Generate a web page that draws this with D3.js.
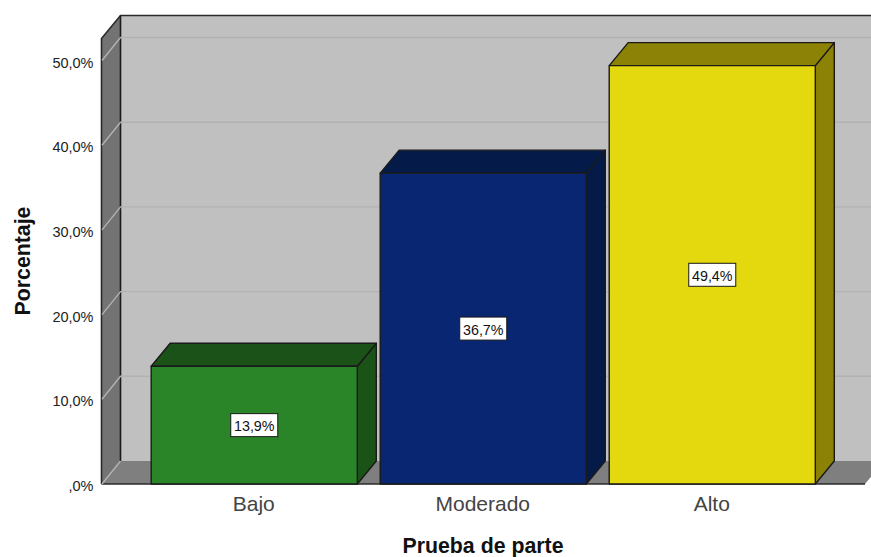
<!DOCTYPE html>
<html>
<head>
<meta charset="utf-8">
<script src="https://cdn.jsdelivr.net/npm/d3@7/dist/d3.min.js"></script>
<style>
html, body { margin: 0; padding: 0; background: #fff; overflow: hidden; }
svg { display: block; font-family: "Liberation Sans", Arial, sans-serif; }
</style>
</head>
<body>
<div id="chart"></div>
<script>
var categories = ["Bajo", "Moderado", "Alto"];
var values = [13.9, 36.7, 49.4];
var valueLabels = ["13,9%", "36,7%", "49,4%"];
var tickValues = [0, 10, 20, 30, 40, 50];
var tickLabels = [",0%", "10,0%", "20,0%", "30,0%", "40,0%", "50,0%"];
var frontColors = ["#2a8529", "#082672", "#e4d80e"];
var topColors = ["#1a5217", "#041a49", "#8c8206"];

var width = 871, height = 557;
var depthX = 19, depthY = 23;
var floorY = 484, wallTopY = 38.5;
var left = 101.5, right = 865;

var xscale = d3.scaleBand().domain(categories).range([left, right])
	.paddingInner(0.1).paddingOuter(0.217);
var yscale = d3.scaleLinear().domain([0, 50]).range([floorY, 60.5]);

var svg = d3.select("#chart").append("svg")
	.attr("width", width)
	.attr("height", height);

function pointList(pts) {
	return pts.map(function(p){return p.join(",")}).join(" ");
}

function poly(pts, fill) {
	return svg.append("polygon")
		.attr("points", pointList(pts))
		.attr("fill", fill)
		.attr("stroke", "#1a1a1a")
		.attr("stroke-width", 1.4)
		.attr("stroke-linejoin", "round");
}

function edge(pts, color) {
	return svg.append("polyline")
		.attr("points", pointList(pts))
		.attr("fill", "none")
		.attr("stroke", color)
		.attr("stroke-width", 1.6);
}

// back wall and floor fills, the walls only get dark lines on some edges
poly([[left + depthX, wallTopY - depthY], [right + depthX, wallTopY - depthY],
	[right + depthX, floorY - depthY], [left + depthX, floorY - depthY]], "#c0c0c0")
	.attr("stroke", "none");
poly([[left, floorY], [left + depthX, floorY - depthY],
	[right + depthX, floorY - depthY], [right, floorY]], "#7f7f7f")
	.attr("stroke", "none");
poly([[left, wallTopY], [left + depthX, wallTopY - depthY],
	[left + depthX, floorY - depthY], [left, floorY]], "#737373")
	.attr("stroke", "none");

edge([[left, floorY], [left, wallTopY], [left + depthX, wallTopY - depthY], [right + depthX, wallTopY - depthY]], "#2a2a2a");
edge([[left + depthX, wallTopY - depthY], [left + depthX, floorY - depthY]], "#1a1a1a");
edge([[left, floorY], [right, floorY]], "#2a2a2a");

// grid lines run along the side wall then the back wall
tickValues.forEach(function(t){
	var y = yscale(t);
	var path = d3.path();
	path.moveTo(left + 0.5, y);
	path.lineTo(left + depthX, y - depthY);
	if (t > 0) path.lineTo(right + depthX, y - depthY);
	svg.append("path")
		.attr("d", path.toString())
		.attr("fill", "none")
		.attr("stroke", "#b2b2b2")
		.attr("stroke-width", 1.4);
});

// bars: right side, top, then front face
categories.forEach(function(c, i){
	var x0 = xscale(c), x1 = x0 + xscale.bandwidth(), y = yscale(values[i]);
	poly([[x1, y], [x1 + depthX, y - depthY], [x1 + depthX, floorY - depthY], [x1, floorY]], topColors[i]);
	poly([[x0, y], [x0 + depthX, y - depthY], [x1 + depthX, y - depthY], [x1, y]], topColors[i]);
	poly([[x0, y], [x1, y], [x1, floorY], [x0, floorY]], frontColors[i]);
});

// value boxes in the middle of each front face
var boxes = svg.selectAll("g.value").data(values).enter().append("g")
	.attr("class", "value")
	.attr("transform", function(d, i){
		return "translate(" + (xscale(categories[i]) + xscale.bandwidth() / 2) + "," + ((yscale(d) + floorY) / 2) + ")";
	});
boxes.append("rect")
	.attr("x", -23.5).attr("y", -11.5)
	.attr("width", 47).attr("height", 23)
	.attr("fill", "#fff")
	.attr("stroke", "#1a1a1a")
	.attr("stroke-width", 1);
boxes.append("text")
	.attr("text-anchor", "middle")
	.attr("y", 6)
	.attr("font-size", 14.3)
	.attr("fill", "#111")
	.text(function(d, i){return valueLabels[i]});

// y axis only carries the labels, the lines are drawn with the walls
var yAxis = d3.axisLeft(yscale)
	.tickValues(tickValues)
	.tickSize(0)
	.tickPadding(8)
	.tickFormat(function(d, i){return tickLabels[i]});
var yg = svg.append("g")
	.attr("transform", "translate(" + left + ",2)")
	.call(yAxis);
yg.select(".domain").remove();
yg.selectAll("text").attr("font-size", 14.5).attr("fill", "#222").attr("font-family", "Liberation Sans");

var xAxis = d3.axisBottom(xscale).tickSize(0).tickPadding(12);
var xg = svg.append("g")
	.attr("transform", "translate(-0.5," + floorY + ")")
	.call(xAxis);
xg.select(".domain").remove();
xg.selectAll("text").attr("font-size", 21).attr("fill", "#444").attr("font-family", "Liberation Sans");

svg.append("text")
	.attr("x", 483)
	.attr("y", 553)
	.attr("text-anchor", "middle")
	.attr("font-size", 21.3)
	.attr("font-weight", "bold")
	.attr("fill", "#111")
	.text("Prueba de parte");

svg.append("text")
	.attr("transform", "translate(30,261) rotate(-90)")
	.attr("text-anchor", "middle")
	.attr("font-size", 21.3)
	.attr("font-weight", "bold")
	.attr("fill", "#111")
	.text("Porcentaje");
</script>
</body>
</html>
